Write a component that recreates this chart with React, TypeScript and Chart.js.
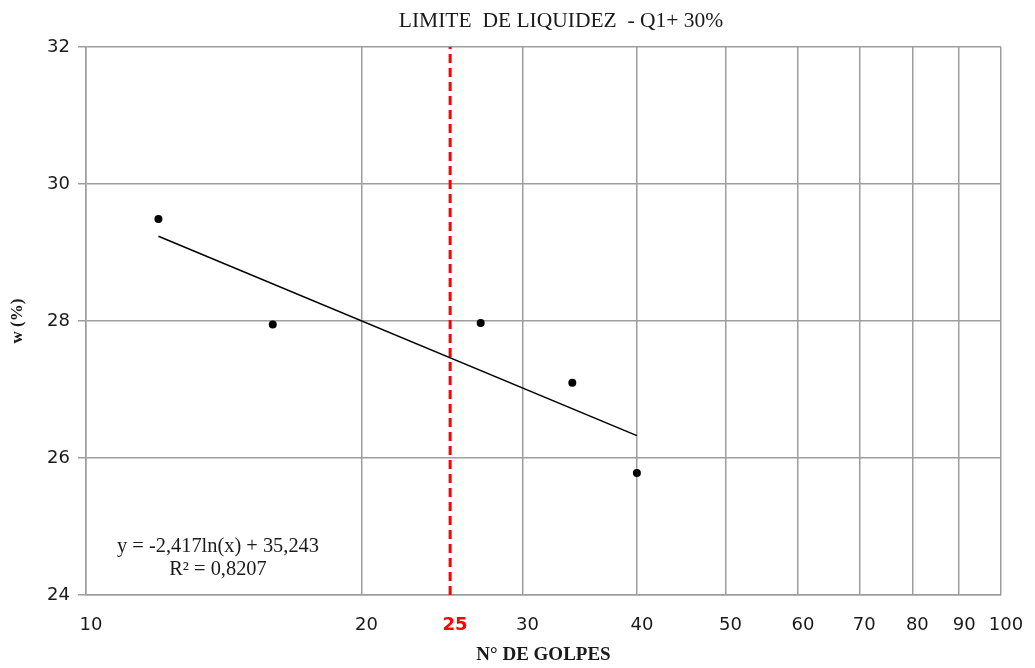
import { useEffect, useRef } from "react";
import { Chart, registerables } from "chart.js";

Chart.register(...registerables);

// Ensayo de límite líquido (Casagrande): número de golpes vs. humedad
const golpes = [12, 16, 27, 34, 40];
const humedad = [29.49, 27.95, 27.97, 27.1, 25.78];

// Ajuste logarítmico y = a·ln(x) + b
const trendSlope = -2.417;
const trendIntercept = 35.243;
const rSquared = 0.8207;
const trendFrom = 12;
const trendTo = 40;

// Límite a 25 golpes
const limitGolpes = 25;

const xTicks = [10, 20, 25, 30, 40, 50, 60, 70, 80, 90, 100];
const yTicks = [24, 26, 28, 30, 32];

const titleText = "LIMITE  DE LIQUIDEZ  - Q1+ 30%";
const xTitle = "N° DE GOLPES";
const yTitle = "w (%)";

const W = 1035;
const H = 668;
const gridColor = "#9e9e9e";
const red = "#ff0000";
const tickFont = "'DejaVu Sans', sans-serif";
const serif = "'Liberation Serif', 'Times New Roman', serif";

const fmt = (v: number, d: number) => v.toFixed(d).replace(".", ",");
const trendAt = (x: number) => trendSlope * Math.log(x) + trendIntercept;

const textPlugin = {
  id: "textOverlay",
  afterDraw(chart: any) {
    const { ctx, chartArea } = chart;
    ctx.save();
    ctx.fillStyle = "#1a1a1a";
    ctx.textAlign = "center";
    ctx.textBaseline = "middle";

    ctx.font = `21.5px ${serif}`;
    ctx.fillText(titleText, 561, 21);

    ctx.font = `bold 19px ${serif}`;
    ctx.fillText(xTitle, (chartArea.left + chartArea.right) / 2, 655);

    ctx.save();
    ctx.translate(18, (chartArea.top + chartArea.bottom) / 2);
    ctx.rotate(-Math.PI / 2);
    ctx.font = `bold 17px ${serif}`;
    ctx.fillText(yTitle, 0, 0);
    ctx.restore();

    ctx.font = `20.4px ${serif}`;
    ctx.fillText(
      `y = ${fmt(trendSlope, 3)}ln(x) + ${fmt(trendIntercept, 3)}`,
      218,
      547
    );
    ctx.fillText(`R² = ${fmt(rSquared, 4)}`, 218, 570);
    ctx.restore();
  },
};

export default function App() {
  const canvasRef = useRef<HTMLCanvasElement | null>(null);

  useEffect(() => {
    if (!canvasRef.current) return;
    const chart = new Chart(canvasRef.current, {
      type: "scatter",
      data: {
        datasets: [
          {
            label: "w (%)",
            data: golpes.map((x, i) => ({ x, y: humedad[i] })),
            pointRadius: 4,
            pointBackgroundColor: "#000",
            pointBorderWidth: 0,
            showLine: false,
          },
          {
            label: "Tendencia",
            data: [
              { x: trendFrom, y: trendAt(trendFrom) },
              { x: trendTo, y: trendAt(trendTo) },
            ],
            showLine: true,
            borderColor: "#000",
            borderWidth: 1.5,
            pointRadius: 0,
          },
          {
            label: "25 golpes",
            data: [
              { x: limitGolpes, y: yTicks[0] },
              { x: limitGolpes, y: yTicks[yTicks.length - 1] },
            ],
            showLine: true,
            borderColor: red,
            borderWidth: 3,
            borderDash: [9, 5],
            pointRadius: 0,
          },
        ],
      },
      options: {
        animation: false,
        responsive: false,
        devicePixelRatio: 1,
        layout: { padding: { top: 47, right: 34, bottom: 0, left: 0 } },
        plugins: {
          legend: { display: false },
          tooltip: { enabled: false },
          title: { display: false },
        },
        scales: {
          x: {
            type: "logarithmic",
            min: xTicks[0],
            max: xTicks[xTicks.length - 1],
            afterBuildTicks: (axis: any) => {
              axis.ticks = xTicks.map((v) => ({ value: v }));
            },
            afterFit: (scale: any) => {
              scale.height = 73;
              scale.paddingLeft = 0;
              scale.paddingRight = 0;
            },
            ticks: {
              autoSkip: false,
              maxRotation: 0,
              padding: 20,
              labelOffset: 5,
              callback: (v: any) => String(v),
              color: (c: any) => (c.tick && c.tick.value === limitGolpes ? red : "#1a1a1a"),
              font: (c: any) =>
                c.tick && c.tick.value === limitGolpes
                  ? { family: tickFont, size: 18, weight: "bold" }
                  : { family: tickFont, size: 18 },
            },
            grid: {
              color: (c: any) =>
                c.tick && c.tick.value === limitGolpes ? "rgba(0,0,0,0)" : gridColor,
              lineWidth: 1.5,
              drawTicks: false,
            },
            border: { display: true, color: gridColor, width: 1.5 },
          },
          y: {
            type: "linear",
            min: yTicks[0],
            max: yTicks[yTicks.length - 1],
            afterBuildTicks: (axis: any) => {
              axis.ticks = yTicks.map((v) => ({ value: v }));
            },
            afterFit: (scale: any) => {
              scale.width = 86;
              scale.paddingTop = 0;
              scale.paddingBottom = 0;
            },
            ticks: {
              padding: 8,
              color: "#1a1a1a",
              font: { family: tickFont, size: 18 },
            },
            grid: {
              color: gridColor,
              lineWidth: 1.5,
              drawTicks: true,
              tickLength: 8,
            },
            border: { display: true, color: gridColor, width: 1.5 },
          },
        },
      },
      plugins: [textPlugin],
    } as any);
    return () => chart.destroy();
  }, []);

  return (
    <div
      style={{
        position: "fixed",
        left: 0,
        top: 0,
        width: W,
        height: H,
        background: "#fff",
      }}
    >
      <canvas ref={canvasRef} width={W} height={H} />
    </div>
  );
}
